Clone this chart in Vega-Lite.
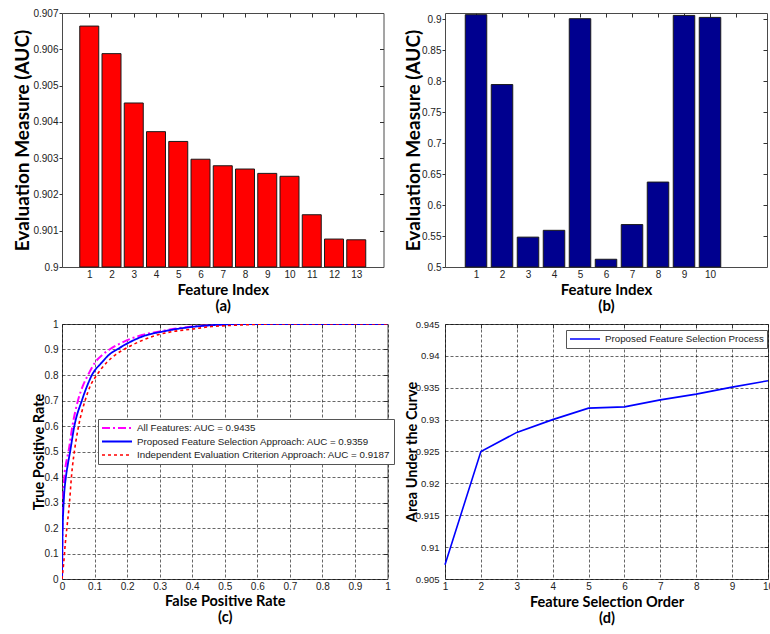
{
  "$schema": "https://vega.github.io/schema/vega-lite/v6.json",
  "padding": {"left": 13, "top": 7, "right": 0, "bottom": 0},
  "background": "white",
  "bounds": "flush",
  "columns": 2,
  "spacing": {"row": 57, "column": 57},
  "resolve": {"scale": {"color": "independent", "strokeDash": "independent", "strokeWidth": "independent"}, "legend": {"color": "independent", "strokeDash": "independent", "strokeWidth": "independent"}},
  "config": {
    "view": {"stroke": "#4a4a4a", "strokeWidth": 1},
    "axis": {
      "labelFont": "Liberation Sans", "labelFontSize": 10, "labelColor": "#222",
      "titleFont": "Lato", "titleFontWeight": "bold", "titleColor": "#000",
      "domain": false, "ticks": false, "tickSize": -4, "tickColor": "#333", "labelPadding": 2,
      "titlePadding": 3, "titleLineHeight": 16.5, "labelFlush": false, "labelOverlap": false,
      "grid": false
    },
    "legend": {
      "labelFont": "Liberation Sans", "labelFontSize": 9.75, "labelColor": "#222",
      "strokeColor": "#555", "fillColor": "#ffffff", "padding": 3, "cornerRadius": 0,
      "symbolType": "stroke", "symbolSize": 900, "clipHeight": 12, "rowPadding": 1.5,
      "labelOffset": 4, "labelLimit": 400
    }
  },
  "concat": [
        {
          "width": 321.5, "height": 254,
          "data": {"values": [
            {"feature": 1, "auc": 0.90664}, {"feature": 2, "auc": 0.90588}, {"feature": 3, "auc": 0.90452},
            {"feature": 4, "auc": 0.90373}, {"feature": 5, "auc": 0.90346}, {"feature": 6, "auc": 0.90297},
            {"feature": 7, "auc": 0.90279}, {"feature": 8, "auc": 0.9027}, {"feature": 9, "auc": 0.90258},
            {"feature": 10, "auc": 0.9025}, {"feature": 11, "auc": 0.90144}, {"feature": 12, "auc": 0.90077},
            {"feature": 13, "auc": 0.90075}
          ]},
          "layer": [
            {
              "mark": {"type": "bar", "size": 19, "color": "#FF0000", "stroke": "#1a1a1a", "strokeWidth": 1},
              "encoding": {
                "x": {"field": "feature", "type": "quantitative", "scale": {"domain": [0, 14], "nice": false},
                  "axis": {"orient": "bottom", "values": [1,2,3,4,5,6,7,8,9,10,11,12,13], "title": ["Feature Index", "(a)"], "titleFontSize": 15}},
                "y": {"field": "auc", "type": "quantitative", "scale": {"domain": [0.9, 0.907], "zero": false, "nice": false},
                  "axis": {"orient": "left", "values": [0.9,0.901,0.902,0.903,0.904,0.905,0.906,0.907], "format": "~g", "ticks": true, "tickSize": 3, "labelPadding": 1, "title": "Evaluation Measure (AUC)", "titleFontSize": 19, "titlePadding": 0}},
                "y2": {"datum": 0.9}
              }
            },
            {
              "mark": {"type": "point", "opacity": 0},
              "encoding": {
                "x": {"field": "feature", "type": "quantitative", "axis": {"orient": "top", "ticks": true, "values": [1,2,3,4,5,6,7,8,9,10,11,12,13], "labels": false, "title": null}},
                "y": {"field": "auc", "type": "quantitative", "axis": {"orient": "right", "ticks": true, "values": [0.901,0.902,0.903,0.904,0.905,0.906], "labels": false, "title": null}}
              }
            }
          ]
        },
        {
          "width": 322, "height": 254,
          "data": {"values": [
            {"feature": 1, "auc": 0.9073}, {"feature": 2, "auc": 0.7945}, {"feature": 3, "auc": 0.5482},
            {"feature": 4, "auc": 0.5592}, {"feature": 5, "auc": 0.9008}, {"feature": 6, "auc": 0.5125},
            {"feature": 7, "auc": 0.5685}, {"feature": 8, "auc": 0.6371}, {"feature": 9, "auc": 0.9061},
            {"feature": 10, "auc": 0.9029}
          ]},
          "layer": [
            {
              "mark": {"type": "bar", "size": 21.5, "color": "#00008F", "stroke": "#1a1a1a", "strokeWidth": 1},
              "encoding": {
                "x": {"field": "feature", "type": "quantitative", "scale": {"domain": [0, 12], "nice": false},
                  "axis": {"orient": "bottom", "values": [1,2,3,4,5,6,7,8,9,10], "title": ["Feature Index", "(b)"], "titleFontSize": 15}},
                "y": {"field": "auc", "type": "quantitative", "scale": {"domain": [0.5, 0.91], "zero": false, "nice": false},
                  "axis": {"orient": "left", "values": [0.5,0.55,0.6,0.65,0.7,0.75,0.8,0.85,0.9], "format": "~g", "ticks": true, "tickSize": 3, "labelPadding": 1, "title": "Evaluation Measure (AUC)", "titleFontSize": 19, "titlePadding": -2}},
                "y2": {"datum": 0.5}
              }
            },
            {
              "mark": {"type": "point", "opacity": 0},
              "encoding": {
                "x": {"field": "feature", "type": "quantitative", "axis": {"orient": "top", "ticks": true, "values": [1,2,3,4,5,6,7,8,9,10,11], "labels": false, "title": null}},
                "y": {"field": "auc", "type": "quantitative", "axis": {"orient": "right", "ticks": true, "values": [0.55,0.6,0.65,0.7,0.75,0.8,0.85,0.9], "labels": false, "title": null}}
              }
            }
          ]
        },
        {
          "width": 325.5, "height": 255,
          "data": {"values": [
            {"series": "All Features: AUC = 0.9435", "fpr": 0, "tpr": 0},
            {"series": "All Features: AUC = 0.9435", "fpr": 0.001, "tpr": 0.15},
            {"series": "All Features: AUC = 0.9435", "fpr": 0.002, "tpr": 0.25},
            {"series": "All Features: AUC = 0.9435", "fpr": 0.003, "tpr": 0.3},
            {"series": "All Features: AUC = 0.9435", "fpr": 0.005, "tpr": 0.35},
            {"series": "All Features: AUC = 0.9435", "fpr": 0.007, "tpr": 0.4},
            {"series": "All Features: AUC = 0.9435", "fpr": 0.012, "tpr": 0.45},
            {"series": "All Features: AUC = 0.9435", "fpr": 0.02, "tpr": 0.5},
            {"series": "All Features: AUC = 0.9435", "fpr": 0.032, "tpr": 0.6},
            {"series": "All Features: AUC = 0.9435", "fpr": 0.049, "tpr": 0.7},
            {"series": "All Features: AUC = 0.9435", "fpr": 0.065, "tpr": 0.76},
            {"series": "All Features: AUC = 0.9435", "fpr": 0.08, "tpr": 0.8},
            {"series": "All Features: AUC = 0.9435", "fpr": 0.102, "tpr": 0.85},
            {"series": "All Features: AUC = 0.9435", "fpr": 0.125, "tpr": 0.88},
            {"series": "All Features: AUC = 0.9435", "fpr": 0.146, "tpr": 0.9},
            {"series": "All Features: AUC = 0.9435", "fpr": 0.189, "tpr": 0.93},
            {"series": "All Features: AUC = 0.9435", "fpr": 0.246, "tpr": 0.957},
            {"series": "All Features: AUC = 0.9435", "fpr": 0.297, "tpr": 0.97},
            {"series": "All Features: AUC = 0.9435", "fpr": 0.34, "tpr": 0.98},
            {"series": "All Features: AUC = 0.9435", "fpr": 0.4, "tpr": 0.99},
            {"series": "All Features: AUC = 0.9435", "fpr": 0.47, "tpr": 0.996},
            {"series": "All Features: AUC = 0.9435", "fpr": 0.55, "tpr": 1},
            {"series": "All Features: AUC = 0.9435", "fpr": 1, "tpr": 1},
            {"series": "Proposed Feature Selection Approach: AUC = 0.9359", "fpr": 0, "tpr": 0},
            {"series": "Proposed Feature Selection Approach: AUC = 0.9359", "fpr": 0.001, "tpr": 0.12},
            {"series": "Proposed Feature Selection Approach: AUC = 0.9359", "fpr": 0.002, "tpr": 0.2},
            {"series": "Proposed Feature Selection Approach: AUC = 0.9359", "fpr": 0.004, "tpr": 0.27},
            {"series": "Proposed Feature Selection Approach: AUC = 0.9359", "fpr": 0.006, "tpr": 0.32},
            {"series": "Proposed Feature Selection Approach: AUC = 0.9359", "fpr": 0.012, "tpr": 0.4},
            {"series": "Proposed Feature Selection Approach: AUC = 0.9359", "fpr": 0.018, "tpr": 0.45},
            {"series": "Proposed Feature Selection Approach: AUC = 0.9359", "fpr": 0.025, "tpr": 0.5},
            {"series": "Proposed Feature Selection Approach: AUC = 0.9359", "fpr": 0.038, "tpr": 0.6},
            {"series": "Proposed Feature Selection Approach: AUC = 0.9359", "fpr": 0.061, "tpr": 0.7},
            {"series": "Proposed Feature Selection Approach: AUC = 0.9359", "fpr": 0.075, "tpr": 0.75},
            {"series": "Proposed Feature Selection Approach: AUC = 0.9359", "fpr": 0.092, "tpr": 0.8},
            {"series": "Proposed Feature Selection Approach: AUC = 0.9359", "fpr": 0.123, "tpr": 0.85},
            {"series": "Proposed Feature Selection Approach: AUC = 0.9359", "fpr": 0.145, "tpr": 0.88},
            {"series": "Proposed Feature Selection Approach: AUC = 0.9359", "fpr": 0.169, "tpr": 0.9},
            {"series": "Proposed Feature Selection Approach: AUC = 0.9359", "fpr": 0.21, "tpr": 0.93},
            {"series": "Proposed Feature Selection Approach: AUC = 0.9359", "fpr": 0.256, "tpr": 0.955},
            {"series": "Proposed Feature Selection Approach: AUC = 0.9359", "fpr": 0.308, "tpr": 0.97},
            {"series": "Proposed Feature Selection Approach: AUC = 0.9359", "fpr": 0.35, "tpr": 0.98},
            {"series": "Proposed Feature Selection Approach: AUC = 0.9359", "fpr": 0.41, "tpr": 0.99},
            {"series": "Proposed Feature Selection Approach: AUC = 0.9359", "fpr": 0.47, "tpr": 0.996},
            {"series": "Proposed Feature Selection Approach: AUC = 0.9359", "fpr": 0.55, "tpr": 1},
            {"series": "Proposed Feature Selection Approach: AUC = 0.9359", "fpr": 1, "tpr": 1},
            {"series": "Independent Evaluation Criterion Approach: AUC = 0.9187", "fpr": 0, "tpr": 0},
            {"series": "Independent Evaluation Criterion Approach: AUC = 0.9187", "fpr": 0.005, "tpr": 0.06},
            {"series": "Independent Evaluation Criterion Approach: AUC = 0.9187", "fpr": 0.01, "tpr": 0.138},
            {"series": "Independent Evaluation Criterion Approach: AUC = 0.9187", "fpr": 0.015, "tpr": 0.2},
            {"series": "Independent Evaluation Criterion Approach: AUC = 0.9187", "fpr": 0.023, "tpr": 0.3},
            {"series": "Independent Evaluation Criterion Approach: AUC = 0.9187", "fpr": 0.029, "tpr": 0.4},
            {"series": "Independent Evaluation Criterion Approach: AUC = 0.9187", "fpr": 0.032, "tpr": 0.44},
            {"series": "Independent Evaluation Criterion Approach: AUC = 0.9187", "fpr": 0.038, "tpr": 0.5},
            {"series": "Independent Evaluation Criterion Approach: AUC = 0.9187", "fpr": 0.051, "tpr": 0.6},
            {"series": "Independent Evaluation Criterion Approach: AUC = 0.9187", "fpr": 0.071, "tpr": 0.7},
            {"series": "Independent Evaluation Criterion Approach: AUC = 0.9187", "fpr": 0.088, "tpr": 0.76},
            {"series": "Independent Evaluation Criterion Approach: AUC = 0.9187", "fpr": 0.107, "tpr": 0.8},
            {"series": "Independent Evaluation Criterion Approach: AUC = 0.9187", "fpr": 0.138, "tpr": 0.85},
            {"series": "Independent Evaluation Criterion Approach: AUC = 0.9187", "fpr": 0.165, "tpr": 0.88},
            {"series": "Independent Evaluation Criterion Approach: AUC = 0.9187", "fpr": 0.19, "tpr": 0.9},
            {"series": "Independent Evaluation Criterion Approach: AUC = 0.9187", "fpr": 0.236, "tpr": 0.93},
            {"series": "Independent Evaluation Criterion Approach: AUC = 0.9187", "fpr": 0.287, "tpr": 0.955},
            {"series": "Independent Evaluation Criterion Approach: AUC = 0.9187", "fpr": 0.339, "tpr": 0.97},
            {"series": "Independent Evaluation Criterion Approach: AUC = 0.9187", "fpr": 0.4, "tpr": 0.98},
            {"series": "Independent Evaluation Criterion Approach: AUC = 0.9187", "fpr": 0.46, "tpr": 0.99},
            {"series": "Independent Evaluation Criterion Approach: AUC = 0.9187", "fpr": 0.53, "tpr": 0.995},
            {"series": "Independent Evaluation Criterion Approach: AUC = 0.9187", "fpr": 0.65, "tpr": 1},
            {"series": "Independent Evaluation Criterion Approach: AUC = 0.9187", "fpr": 1, "tpr": 1}
          ]},
          "layer": [
            {
              "mark": {"type": "line", "interpolate": "monotone", "clip": true},
              "encoding": {
                "x": {"field": "fpr", "type": "quantitative", "scale": {"domain": [0, 1], "nice": false},
                  "axis": {"orient": "bottom", "values": [0,0.1,0.2,0.3,0.4,0.5,0.6,0.7,0.8,0.9,1], "format": "~g", "grid": true, "gridDash": [3,2], "gridColor": "#000", "gridOpacity": 0.75, "gridWidth": 0.8, "title": ["False Positive Rate", "(c)"], "titleFontSize": 14.5}},
                "y": {"field": "tpr", "type": "quantitative", "scale": {"domain": [0, 1], "nice": false},
                  "axis": {"orient": "left", "values": [0,0.1,0.2,0.3,0.4,0.5,0.6,0.7,0.8,0.9,1], "format": "~g", "grid": true, "gridDash": [3,2], "gridColor": "#000", "gridOpacity": 0.75, "gridWidth": 0.8, "labelPadding": 4, "title": "True Positive Rate", "titleFontSize": 14.5, "titlePadding": -2.5}},
                "color": {"field": "series", "type": "nominal",
                  "scale": {"domain": ["All Features: AUC = 0.9435", "Proposed Feature Selection Approach: AUC = 0.9359", "Independent Evaluation Criterion Approach: AUC = 0.9187"], "range": ["#FF00FF", "#0000FF", "#FF0000"]},
                  "legend": {"orient": "none", "legendX": 36, "legendY": 95, "title": null}},
                "strokeDash": {"field": "series", "type": "nominal",
                  "scale": {"domain": ["All Features: AUC = 0.9435", "Proposed Feature Selection Approach: AUC = 0.9359", "Independent Evaluation Criterion Approach: AUC = 0.9187"], "range": [[8,3,2,3],[1,0],[3,3]]},
                  "legend": {"orient": "none", "legendX": 36, "legendY": 95, "title": null}},
                "strokeWidth": {"field": "series", "type": "nominal",
                  "scale": {"domain": ["All Features: AUC = 0.9435", "Proposed Feature Selection Approach: AUC = 0.9359", "Independent Evaluation Criterion Approach: AUC = 0.9187"], "range": [2, 1.6, 3.5]},
                  "legend": {"orient": "none", "legendX": 36, "legendY": 95, "title": null}}
              }
            },
            {
              "mark": {"type": "point", "opacity": 0},
              "encoding": {
                "x": {"field": "fpr", "type": "quantitative", "axis": {"orient": "top", "ticks": true, "values": [0.1,0.2,0.3,0.4,0.5,0.6,0.7,0.8,0.9], "labels": false, "title": null}},
                "y": {"field": "tpr", "type": "quantitative", "axis": {"orient": "right", "ticks": true, "values": [0.1,0.2,0.3,0.4,0.5,0.6,0.7,0.8,0.9], "labels": false, "title": null}}
              }
            }
          ]
        },
        {
          "width": 323, "height": 255,
          "data": {"values": [
            {"series": "Proposed Feature Selection Process", "order": 1, "auc": 0.90725},
            {"series": "Proposed Feature Selection Process", "order": 2, "auc": 0.925},
            {"series": "Proposed Feature Selection Process", "order": 3, "auc": 0.928},
            {"series": "Proposed Feature Selection Process", "order": 4, "auc": 0.93},
            {"series": "Proposed Feature Selection Process", "order": 5, "auc": 0.9318},
            {"series": "Proposed Feature Selection Process", "order": 6, "auc": 0.932},
            {"series": "Proposed Feature Selection Process", "order": 7, "auc": 0.9331},
            {"series": "Proposed Feature Selection Process", "order": 8, "auc": 0.934},
            {"series": "Proposed Feature Selection Process", "order": 9, "auc": 0.9351},
            {"series": "Proposed Feature Selection Process", "order": 10, "auc": 0.9361}
          ]},
          "layer": [
            {
              "mark": {"type": "line", "strokeWidth": 1.6},
              "encoding": {
                "x": {"field": "order", "type": "quantitative", "scale": {"domain": [1, 10], "nice": false},
                  "axis": {"orient": "bottom", "values": [1,2,3,4,5,6,7,8,9,10], "labelPadding": 2, "grid": true, "gridDash": [3,2], "gridColor": "#000", "gridOpacity": 0.75, "gridWidth": 0.8, "title": ["Feature Selection Order", "(d)"], "titleFontSize": 14.5, "titlePadding": 4}},
                "y": {"field": "auc", "type": "quantitative", "scale": {"domain": [0.905, 0.945], "zero": false, "nice": false},
                  "axis": {"orient": "left", "values": [0.905,0.91,0.915,0.92,0.925,0.93,0.935,0.94,0.945], "format": "~g", "labelFontSize": 9.5, "grid": true, "gridDash": [3,2], "gridColor": "#000", "gridOpacity": 0.75, "gridWidth": 0.8, "labelPadding": 6, "title": "Area Under the Curve", "titleFontSize": 14.5, "titlePadding": -4}},
                "color": {"field": "series", "type": "nominal", "scale": {"domain": ["Proposed Feature Selection Process"], "range": ["#0000FF"]},
                  "legend": {"orient": "none", "legendX": 121, "legendY": 6, "title": null}}
              }
            },
            {
              "mark": {"type": "point", "opacity": 0},
              "encoding": {
                "x": {"field": "order", "type": "quantitative", "axis": {"orient": "top", "ticks": true, "values": [2,3,4,5,6,7,8,9], "labels": false, "title": null}},
                "y": {"field": "auc", "type": "quantitative", "axis": {"orient": "right", "ticks": true, "values": [0.91,0.915,0.92,0.925,0.93,0.935,0.94], "labels": false, "title": null}}
              }
            }
          ]
  }
  ]
}
